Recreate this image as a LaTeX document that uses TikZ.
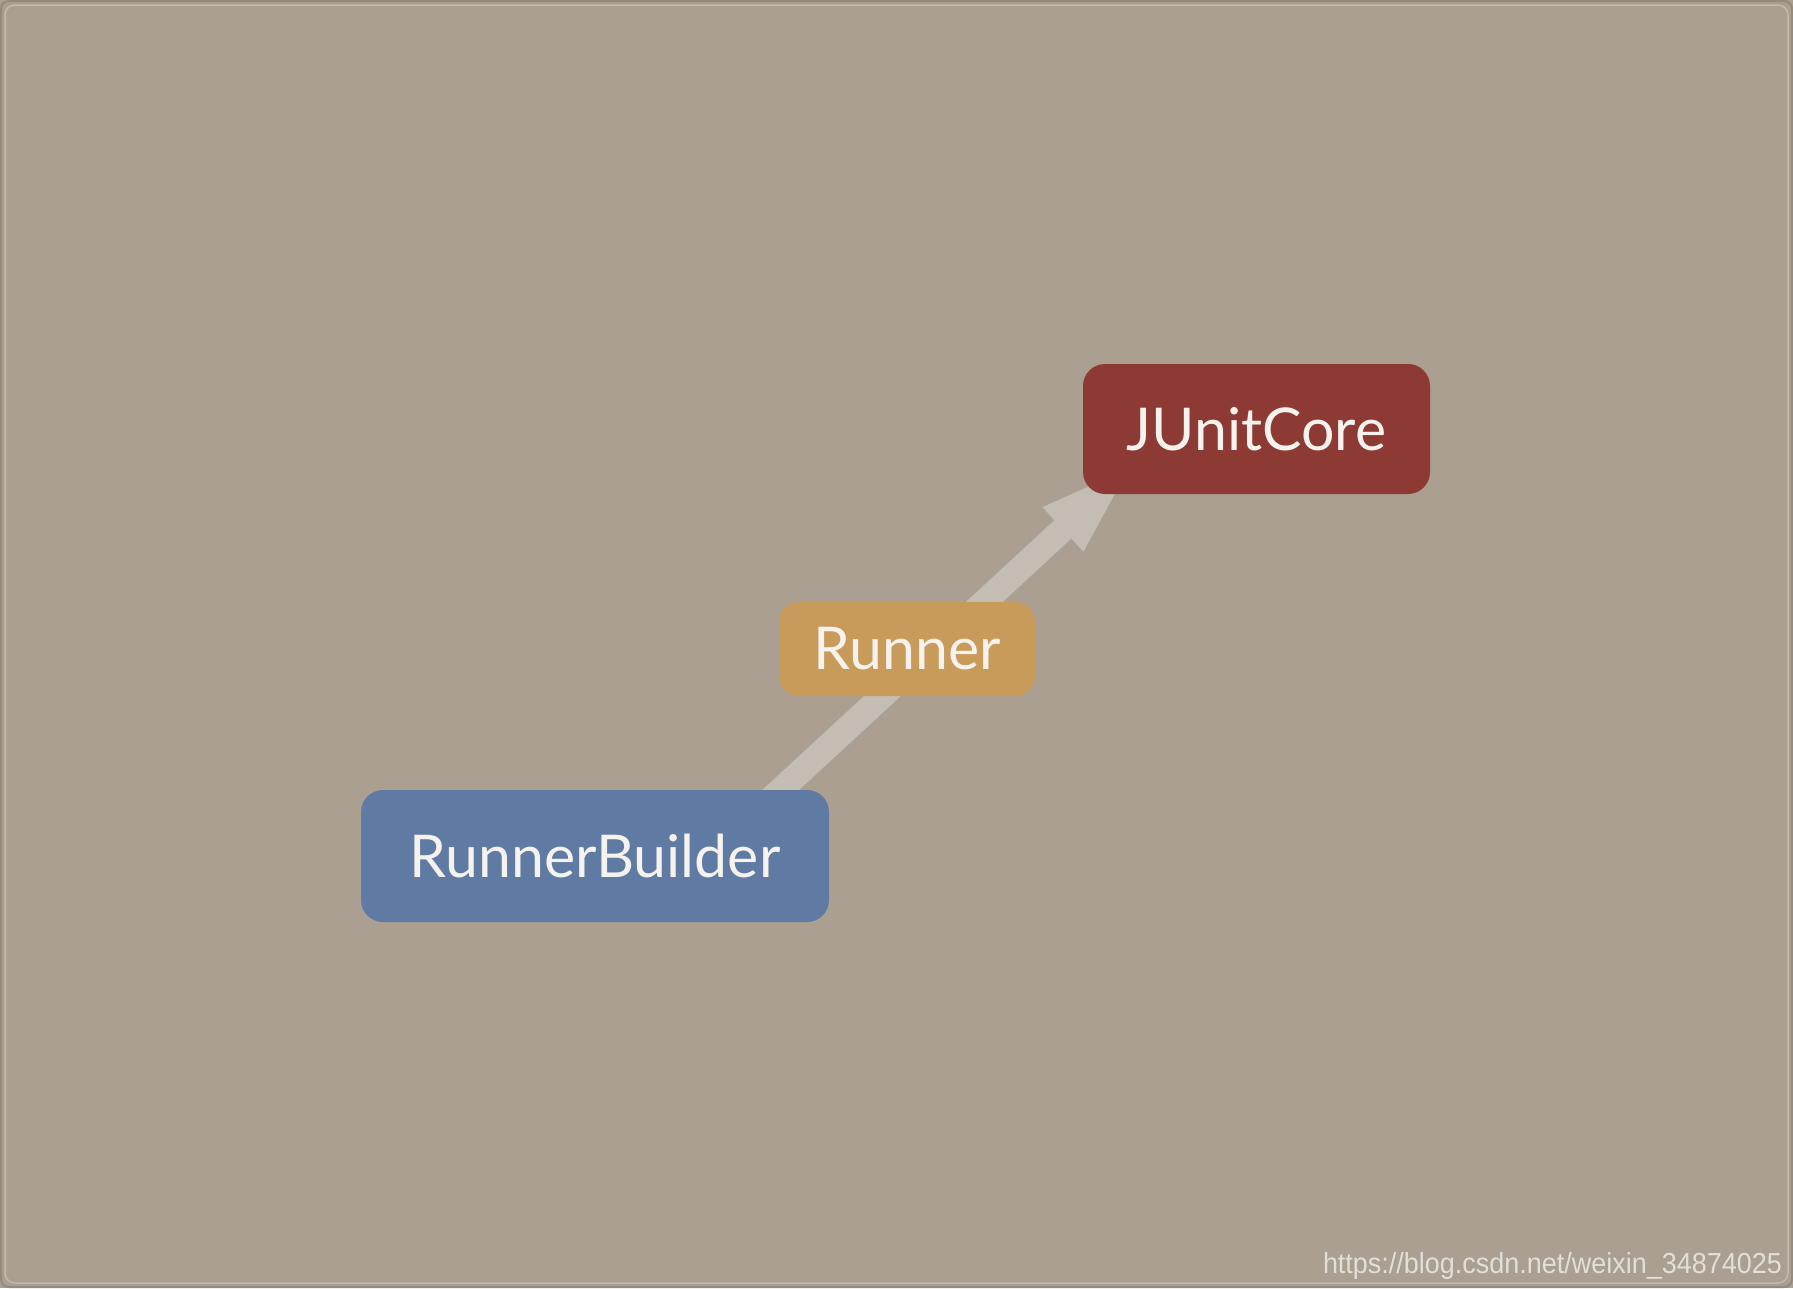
\documentclass[tikz,border=0pt]{standalone}
\usepackage{fontspec}
\setmainfont{Lato}
\newfontfamily\wmfont{Liberation Sans}
\usetikzlibrary{arrows.meta,calc}
\pgfdeclarelayer{bg}
\pgfsetlayers{bg,main}
\definecolor{bgc}{RGB}{170,159,144}
\definecolor{bgline}{RGB}{194,186,175}
\definecolor{bgdark}{RGB}{148,138,125}
\definecolor{arrc}{RGB}{196,189,180}
\definecolor{jcred}{RGB}{142,58,52}
\definecolor{rnorange}{RGB}{200,155,91}
\definecolor{rbblue}{RGB}{95,122,163}
\definecolor{txtc}{RGB}{246,242,238}
\definecolor{wmc}{RGB}{226,222,216}
\tikzset{
  boxnode/.style={rounded corners=22pt, inner sep=0pt, text=txtc,
    font=\fontsize{59}{62}\selectfont, text height=42pt, text depth=0pt},
  flowarrow/.style={draw=arrc, line width=25pt,
    -{Triangle[length=102pt,width=51pt]}}
}
\begin{document}
\begin{tikzpicture}[x=1pt,y=-1pt]
\begin{pgfonlayer}{bg}
\fill[bgc] (0,0) rectangle (1793,1288);
\end{pgfonlayer}
\useasboundingbox (0,0) rectangle (1793,1288);
\draw[bgdark, line width=2pt, rounded corners=8pt] (1,1) rectangle (1792,1287);
\draw[bgline, line width=1.5pt, rounded corners=10pt] (5,5) rectangle (1788,1283);
% nodes
\node[boxnode, fill=rbblue, minimum width=468pt, minimum height=132pt] (rb) at (595,856) {RunnerBuilder};
\node[boxnode, fill=jcred, minimum width=347pt, minimum height=130pt] (jc) at (1256.5,429) {JUnitCore};
\node[boxnode, fill=rnorange, rounded corners=20pt, minimum width=256pt, minimum height=94pt, text height=40pt] (rn) at (907,649) {Runner};
\coordinate (astart) at ($(rb.north east)+(-70,20)$);
\coordinate (aend) at ($(jc.south west)+(55,-34)$);
\begin{pgfonlayer}{bg}
\draw[flowarrow] (astart) -- (aend);
\end{pgfonlayer}
\node[anchor=base east, inner sep=0pt, text=wmc, font=\wmfont\fontsize{29}{32}\selectfont] (wm) at (1782,1273) {\scalebox{0.93}[1]{https://blog.csdn.net/weixin\_34874025}};
\end{tikzpicture}
\end{document}
